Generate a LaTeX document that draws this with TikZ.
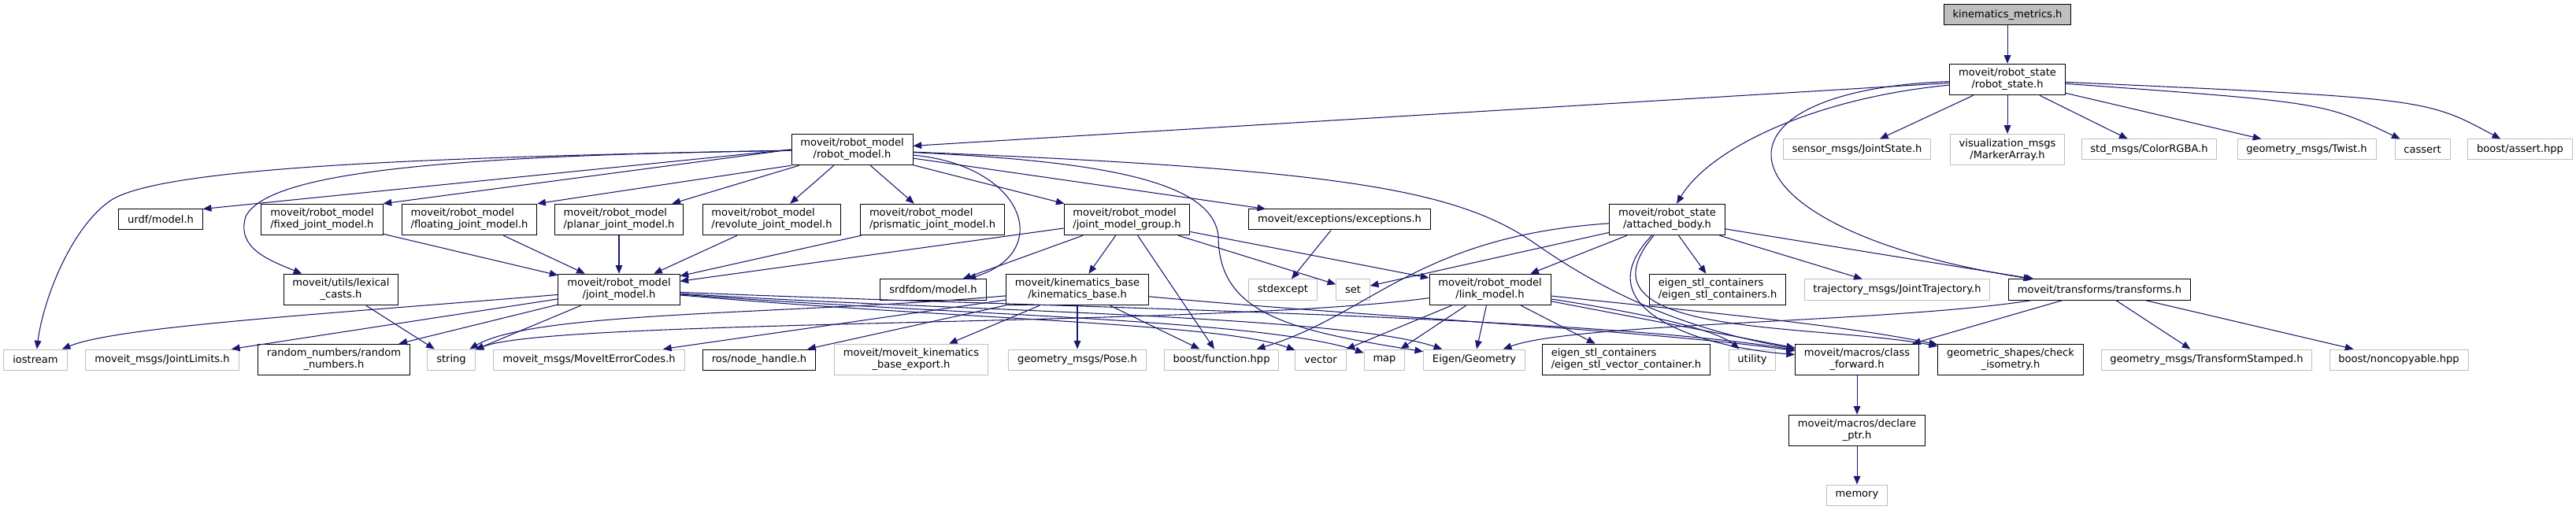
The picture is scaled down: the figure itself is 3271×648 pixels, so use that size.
\documentclass[tikz,border=0pt]{standalone}
\usepackage{fontspec}
\setmainfont{DejaVu Sans}
\usepackage{xcolor}
\definecolor{linkblue}{RGB}{25,25,112}
\definecolor{extgray}{RGB}{191,191,191}
\usepackage{tikz}
\usetikzlibrary{arrows.meta}

\begin{document}
\begin{tikzpicture}[x=0.75pt, y=-0.75pt,
  font=\fontsize{9.8}{11.3}\selectfont, >={Triangle[length=8pt,width=6.5pt]},
  box/.style={draw,line width=0.75pt,inner xsep=8.5pt,inner ysep=4.3pt,minimum height=19.5pt,align=center},
  doc/.style={box,draw=black},
  ext/.style={box,draw=extgray},
  cur/.style={doc,fill=extgray},
  dep/.style={->,draw=linkblue,line width=0.8pt}]

  \useasboundingbox (0,0) rectangle (3271,648);

  % the file itself and robot_state
  \node[cur] (kin)    at (2549,19)  {kinematics\_metrics.h};
  \node[doc] (rstate) at (2549,101) {moveit/robot\_state\\/robot\_state.h};

  % second level
  \node[doc] (rmodel)  at (1082,190) {moveit/robot\_model\\/robot\_model.h};
  \node[ext] (sensor)  at (2358,190) {sensor\_msgs/JointState.h};
  \node[ext] (vis)     at (2549,190) {visualization\_msgs\\/MarkerArray.h};
  \node[ext] (stdmsgs) at (2729,190) {std\_msgs/ColorRGBA.h};
  \node[ext] (twist)   at (2929,190) {geometry\_msgs/Twist.h};
  \node[ext] (cassert) at (3076,190) {cassert};
  \node[ext] (bassert) at (3200,190) {boost/assert.hpp};

  % joint model headers
  \node[doc] (urdf)       at (204,279)  {urdf/model.h};
  \node[doc,align=left] (fixed)     at (409,279)  {moveit/robot\_model\\/fixed\_joint\_model.h};
  \node[doc,align=left] (floating)  at (596,279)  {moveit/robot\_model\\/floating\_joint\_model.h};
  \node[doc,align=left] (planar)    at (786,279)  {moveit/robot\_model\\/planar\_joint\_model.h};
  \node[doc,align=left] (revolute)  at (980,279)  {moveit/robot\_model\\/revolute\_joint\_model.h};
  \node[doc,align=left] (prismatic) at (1184,279) {moveit/robot\_model\\/prismatic\_joint\_model.h};
  \node[doc,align=left] (jmg)       at (1431,279) {moveit/robot\_model\\/joint\_model\_group.h};
  \node[doc] (exceptions) at (1701,279) {moveit/exceptions/exceptions.h};
  \node[doc] (attached)   at (2117,279) {moveit/robot\_state\\/attached\_body.h};

  % fourth level
  \node[doc] (lexical)    at (433,368)  {moveit/utils/lexical\\\_casts.h};
  \node[doc] (jmodel)     at (786,368)  {moveit/robot\_model\\/joint\_model.h};
  \node[doc] (srdfdom)    at (1185,368) {srdfdom/model.h};
  \node[doc] (kinbase)    at (1368,368) {moveit/kinematics\_base\\/kinematics\_base.h};
  \node[ext] (stdexcept)  at (1629,368) {stdexcept};
  \node[ext] (set)        at (1718,368) {set};
  \node[doc] (lmodel)     at (1892,368) {moveit/robot\_model\\/link\_model.h};
  \node[doc,align=left] (eigenstl) at (2181,368) {eigen\_stl\_containers\\/eigen\_stl\_containers.h};
  \node[ext] (trajectory) at (2409,368) {trajectory\_msgs/JointTrajectory.h};
  \node[doc] (transforms) at (2666,368) {moveit/transforms/transforms.h};

  % bottom row
  \node[ext] (iostream)   at (45,457)   {iostream};
  \node[ext] (jlimits)    at (206,457)  {moveit\_msgs/JointLimits.h};
  \node[doc] (random)     at (424,457)  {random\_numbers/random\\\_numbers.h};
  \node[ext] (string)     at (573,457)  {string};
  \node[ext] (errcodes)   at (748,457)  {moveit\_msgs/MoveItErrorCodes.h};
  \node[doc] (nodehandle) at (964,457)  {ros/node\_handle.h};
  \node[ext] (kbexport)   at (1157,457) {moveit/moveit\_kinematics\\\_base\_export.h};
  \node[ext] (pose)       at (1368,457) {geometry\_msgs/Pose.h};
  \node[ext] (function)   at (1551,457) {boost/function.hpp};
  \node[ext] (vector)     at (1677,457) {vector};
  \node[ext] (map)        at (1758,457) {map};
  \node[ext] (eigengeom)  at (1872,457) {Eigen/Geometry};
  \node[doc,align=left] (vectorcont) at (2065,457) {eigen\_stl\_containers\\/eigen\_stl\_vector\_container.h};
  \node[ext] (utility)    at (2225,457) {utility};
  \node[doc] (classfwd)   at (2358,457) {moveit/macros/class\\\_forward.h};
  \node[doc] (checkiso)   at (2553,457) {geometric\_shapes/check\\\_isometry.h};
  \node[ext] (tfstamped)  at (2802,457) {geometry\_msgs/TransformStamped.h};
  \node[ext] (noncopy)    at (3046,457) {boost/noncopyable.hpp};

  \node[doc] (declare) at (2358,547) {moveit/macros/declare\\\_ptr.h};
  \node[ext] (memory)  at (2358,629) {memory};

  % robot_state
  \draw[dep] (kin) -- (rstate);
  \draw[dep] (rstate) -- (rmodel);
  \draw[dep] (rstate) .. controls (2300,125) and (2170,190) .. (attached);
  \draw[dep] (rstate) .. controls (2150,115) and (2170,290) .. (transforms);
  \draw[dep] (rstate) -- (sensor);
  \draw[dep] (rstate) -- (vis);
  \draw[dep] (rstate) -- (stdmsgs);
  \draw[dep] (rstate) -- (twist);
  \draw[dep] (rstate) .. controls (2950,130) .. (cassert);
  \draw[dep] (rstate) .. controls (3080,125) .. (bassert);

  % robot_model
  \draw[dep] (rmodel) .. controls (500,200) and (200,215) .. (140,255) .. controls (90,290) and (55,380) .. (iostream);
  \draw[dep] (rmodel.west) -- (urdf.north east);
  \draw[dep] (rmodel) .. controls (550,198) and (340,220) .. (312,275) .. controls (300,315) and (340,330) .. (lexical);
  \draw[dep] (rmodel.west) -- (fixed.north east);
  \draw[dep] (rmodel.south west) -- (floating.north east);
  \draw[dep] (rmodel) -- (planar);
  \draw[dep] (rmodel) -- (revolute);
  \draw[dep] (rmodel) -- (prismatic);
  \draw[dep] (rmodel) .. controls (1300,210) and (1340,320) .. (srdfdom);
  \draw[dep] (rmodel) -- (jmg);
  \draw[dep] (rmodel) -- (exceptions);
  \draw[dep] (rmodel) .. controls (1400,205) and (1540,230) .. (1547,300) .. controls (1547,400) and (1640,420) .. (eigengeom);
  \draw[dep] (rmodel) .. controls (1700,215) and (1850,240) .. (1950,310) .. controls (2050,380) and (2150,420) .. (classfwd);

  % joint types
  \draw[dep] (fixed) -- (jmodel);
  \draw[dep] (floating) -- (jmodel);
  \draw[dep] (planar) -- (jmodel);
  \draw[dep] (revolute) -- (jmodel);
  \draw[dep] (prismatic) -- (jmodel);
  \draw[dep] (jmg) -- (jmodel);
  \draw[dep] (jmg) -- (srdfdom);
  \draw[dep] (jmg) -- (kinbase);
  \draw[dep] (jmg) -- (function);
  \draw[dep] (jmg) -- (set);
  \draw[dep] (jmg) -- (lmodel);
  \draw[dep] (exceptions) -- (stdexcept);

  % attached_body
  \draw[dep] (attached) -- (set);
  \draw[dep] (attached) -- (lmodel);
  \draw[dep] (attached) -- (eigenstl);
  \draw[dep] (attached) -- (trajectory);
  \draw[dep] (attached) -- (transforms);
  \draw[dep] (attached) .. controls (1800,300) and (1740,400) .. (function);
  \draw[dep] (attached) .. controls (2010,390) and (2150,440) .. (classfwd);
  \draw[dep] (attached) .. controls (1990,430) and (2300,410) .. (checkiso);

  % joint_model
  \draw[dep] (lexical) -- (string);
  \draw[dep] (jmodel) .. controls (400,400) and (150,415) .. (iostream);
  \draw[dep] (jmodel) -- (jlimits);
  \draw[dep] (jmodel) -- (random);
  \draw[dep] (jmodel) -- (string);
  \draw[dep] (jmodel) .. controls (1200,405) and (1550,410) .. (vector);
  \draw[dep] (jmodel) .. controls (1200,400) and (1600,405) .. (map);
  \draw[dep] (jmodel) .. controls (1200,395) and (1700,400) .. (eigengeom);
  \draw[dep] (jmodel) .. controls (1300,390) and (2000,400) .. (classfwd);

  % kinematics_base
  \draw[dep] (kinbase) -- (errcodes);
  \draw[dep] (kinbase) -- (nodehandle);
  \draw[dep] (kinbase) -- (kbexport);
  \draw[dep] (kinbase) -- (pose);
  \draw[dep] (kinbase) -- (function);
  \draw[dep] (kinbase) .. controls (1000,400) and (680,395) .. (string);
  \draw[dep] (kinbase) .. controls (1700,400) and (2100,420) .. (classfwd);

  % link_model
  \draw[dep] (lmodel) .. controls (1550,415) and (700,405) .. (string);
  \draw[dep] (lmodel) -- (vector);
  \draw[dep] (lmodel) -- (map);
  \draw[dep] (lmodel) -- (eigengeom);
  \draw[dep] (lmodel) -- (vectorcont);
  \draw[dep] (lmodel) .. controls (2100,400) and (2180,420) .. (utility);
  \draw[dep] (lmodel) -- (classfwd);
  \draw[dep] (lmodel) .. controls (2200,400) and (2350,415) .. (checkiso);

  % transforms and macros
  \draw[dep] (transforms) .. controls (2400,410) and (2000,410) .. (eigengeom);
  \draw[dep] (transforms) -- (classfwd);
  \draw[dep] (transforms) -- (tfstamped);
  \draw[dep] (transforms) -- (noncopy);
  \draw[dep] (classfwd) -- (declare);
  \draw[dep] (declare) -- (memory);
\end{tikzpicture}
\end{document}
